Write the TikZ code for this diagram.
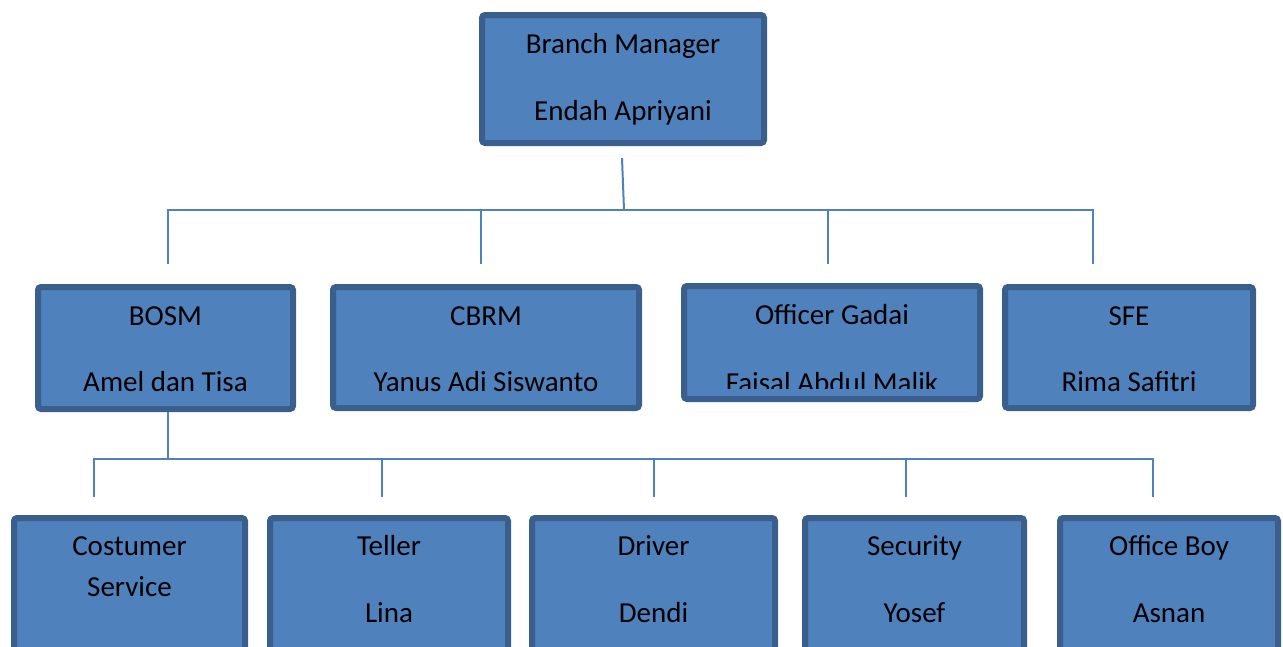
\documentclass[tikz,border=0pt]{standalone}
\usepackage{fontspec}
\setmainfont{Carlito}
\usetikzlibrary{calc}
\definecolor{boxfill}{HTML}{4F81BD}
\definecolor{boxline}{HTML}{3A5F8D}
\definecolor{connc}{HTML}{4F81BD}
\tikzset{
  orgbox/.style={draw=boxline, fill=boxfill, line width=6pt, rounded corners=3pt, inner sep=0pt, outer sep=0pt},
  lbl/.style={anchor=base, inner sep=0pt, font=\fontsize{29}{34}\selectfont, text=black},
  conn/.style={draw=connc, line width=2pt}
}
\begin{document}
\begin{tikzpicture}[x=1pt,y=-1pt]
\useasboundingbox (0,0) rectangle (1283,646);
\clip (0,0) rectangle (1283,646);
% top
\node[orgbox, minimum width=282, minimum height=128] (bm) at (623,79) {};
\node[lbl] (bm1) at (623,53) {Branch Manager};
\node[lbl] (bm2) at (623,120) {Endah Apriyani};
% level 2
\node[orgbox, minimum width=255, minimum height=122] (bosm) at (165.5,348) {};
\node[lbl] (bosm1) at (165.5,325) {BOSM};
\node[lbl] (bosm2) at (165.5,391) {Amel dan Tisa};
\node[orgbox, minimum width=306, minimum height=121] (cbrm) at (486,347.5) {};
\node[lbl] (cbrm1) at (486,325) {CBRM};
\node[lbl] (cbrm2) at (486,391) {Yanus Adi Siswanto};
\node[orgbox, minimum width=296, minimum height=113] (og) at (832,342.5) {};
\node[lbl] (og1) at (832,324) {Officer Gadai};
\begin{scope}
\clip (681,283) rectangle (983,388);
\node[lbl] (og2) at (832,392) {Faisal Abdul Malik};
\end{scope}
\node[orgbox, minimum width=248, minimum height=121] (sfe) at (1129,347.5) {};
\node[lbl] (sfe1) at (1129,325) {SFE};
\node[lbl] (sfe2) at (1129,391) {Rima Safitri};
% level 3
\node[orgbox, minimum width=231, minimum height=179] (cs) at (129.5,607.5) {};
\node[lbl] (cs1) at (129.5,555) {Costumer};
\node[lbl] (cs2) at (129.5,596) {Service};
\node[orgbox, minimum width=238, minimum height=179] (tel) at (389,607.5) {};
\node[lbl] (tel1) at (389,555) {Teller};
\node[lbl] (tel2) at (389,622) {Lina};
\node[orgbox, minimum width=243, minimum height=179] (drv) at (653.5,607.5) {};
\node[lbl] (drv1) at (653.5,555) {Driver};
\node[lbl] (drv2) at (653.5,622) {Dendi};
\node[orgbox, minimum width=219, minimum height=179] (sec) at (914.5,607.5) {};
\node[lbl] (sec1) at (914.5,555) {Security};
\node[lbl] (sec2) at (914.5,622) {Yosef};
\node[orgbox, minimum width=218, minimum height=179] (ob) at (1169,607.5) {};
\node[lbl] (ob1) at (1169,555) {Office Boy};
\node[lbl] (ob2) at (1169,622) {Asnan};
% connectors level 1-2
\coordinate (t0) at (622,158);
\coordinate (t1) at (624,210);
\coordinate (ha) at (168,210);
\coordinate (hb) at (1093,210);
\coordinate (d1) at (168,264);
\coordinate (d2) at (481,264);
\coordinate (d3) at (828,264);
\coordinate (d4) at (1093,264);
\draw[conn] (t0) -- (t1);
\draw[conn] (d1) -- (ha) -- (hb) -- (d4);
\draw[conn] (d2) -- (d2 |- ha);
\draw[conn] (d3) -- (d3 |- ha);
% connectors level 2-3
\coordinate (b0) at (168,412);
\coordinate (b1) at (168,459);
\coordinate (la) at (94,459);
\coordinate (lb) at (1153,459);
\coordinate (e1) at (94,497);
\coordinate (e2) at (382,497);
\coordinate (e3) at (654,497);
\coordinate (e4) at (906,497);
\coordinate (e5) at (1153,497);
\draw[conn] (b0) -- (b1);
\draw[conn] (e1) -- (la) -- (lb) -- (e5);
\draw[conn] (e2) -- (e2 |- la);
\draw[conn] (e3) -- (e3 |- la);
\draw[conn] (e4) -- (e4 |- la);
\end{tikzpicture}
\end{document}
